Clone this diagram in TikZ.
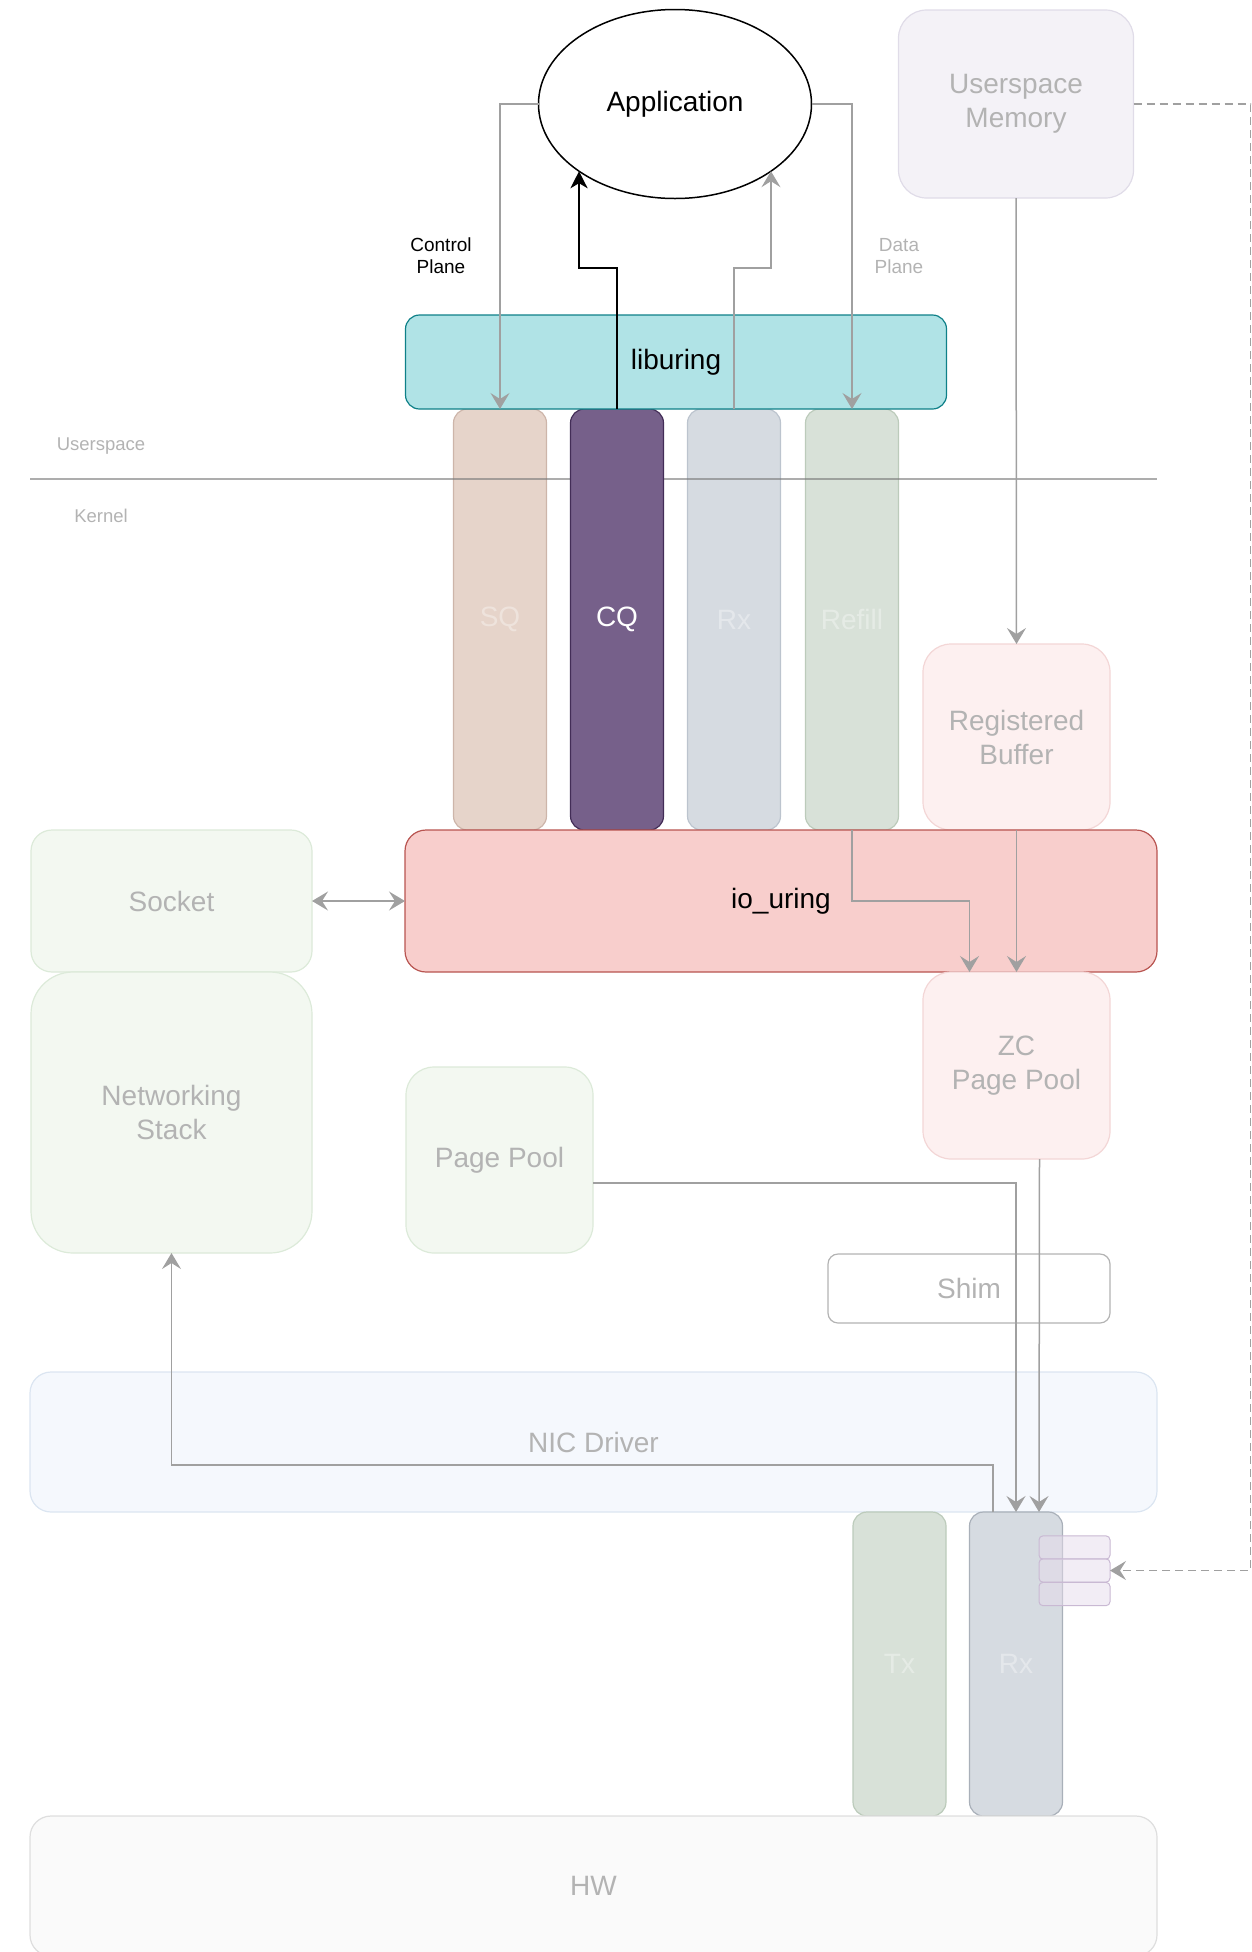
\documentclass[tikz,border=0pt]{standalone}
\usepackage{fontspec}
\setmainfont{Liberation Sans}
\usetikzlibrary{shapes.geometric, arrows.meta}

\definecolor{fadetext}{HTML}{B3B3B3}
\definecolor{linkgray}{HTML}{A0A0A0}
\definecolor{libfill}{HTML}{B0E3E6}
\definecolor{libdraw}{HTML}{0E8088}
\definecolor{ioufill}{HTML}{F8CECC}
\definecolor{ioudraw}{HTML}{B85450}
\definecolor{cqfill}{HTML}{76608A}
\definecolor{cqdraw}{HTML}{432D57}
\definecolor{sqfill}{HTML}{E6D4CA}
\definecolor{sqdraw}{HTML}{CDB5AA}
\definecolor{rxfill}{HTML}{D6DBE1}
\definecolor{rxdraw}{HTML}{BCC4CE}
\definecolor{rffill}{HTML}{D8E1D8}
\definecolor{rfdraw}{HTML}{BCCBBB}
\definecolor{memfill}{HTML}{F4F2F7}
\definecolor{memdraw}{HTML}{E0DCE8}
\definecolor{bufill}{HTML}{FDF0F0}
\definecolor{budraw}{HTML}{F3D6D6}
\definecolor{netfill}{HTML}{F3F8F1}
\definecolor{netdraw}{HTML}{DCEAD9}
\definecolor{nicfill}{HTML}{F5F8FD}
\definecolor{nicdraw}{HTML}{DBE5F1}
\definecolor{hwfill}{HTML}{FAFAFA}
\definecolor{hwdraw}{HTML}{DEDEDE}
\definecolor{slotfill}{HTML}{E6DCEC}
\definecolor{slotdraw}{HTML}{C9B9D3}
\definecolor{sepgray}{HTML}{777777}

\begin{document}
\begin{tikzpicture}[x=1pt, y=-1pt,
  every node/.style={inner sep=0pt, outer sep=0pt, align=center, font=\fontsize{28}{34}\selectfont},
  box/.style={rectangle, draw, line width=1.2pt, rounded corners=#1, text=fadetext},
  box/.default=21pt,
  sz/.style 2 args={minimum width=#1pt, minimum height=#2pt},
  queue/.style={box=14pt, sz={93}{#1}, text opacity=0.35, text=white},
  lbl/.style={font=\fontsize{18.5}{22}\selectfont, text=fadetext},
  tip/.tip={Stealth[length=16pt, width=19pt, inset=6pt]},
  link/.style={draw=linkgray, line width=1.5pt, -tip}
]
  \clip (0,0) rectangle (1252,1952);

  % Userspace
  \node[ellipse, draw, line width=1.5pt, fill=white, sz={273}{189}] (app) at (675,104) {Application};
  \node[box=28pt, fill=memfill, draw=memdraw, sz={235}{188}] (umem) at (1016,104) {Userspace\\Memory};
  \node[lbl, text=black, font=\fontsize{19}{22}\selectfont] (cplane) at (441,256) {Control\\Plane};
  \node[lbl, font=\fontsize{19}{22}\selectfont] (dplane) at (899,256) {Data\\Plane};

  % Rings
  \node[queue=421, fill=sqfill, draw=sqdraw] (sq) at (500,619.5) {SQ};
  \node[queue=421, fill=rxfill, draw=rxdraw] (rxq) at (734,619.5) {Rx};
  \node[queue=421, fill=rffill, draw=rfdraw] (refill) at (852,619.5) {Refill};

  % Userspace / kernel boundary
  \draw[sepgray, draw opacity=0.6, line width=1.5pt] (30,479) -- (1157,479);
  \node[lbl] (user) at (101,446) {Userspace};
  \node[lbl] (kern) at (101,516) {Kernel};

  \node[box=14pt, sz={93}{421}, fill=cqfill, draw=cqdraw, text=white] (cq) at (617,619.5) {CQ};
  \node[box=14pt, sz={541}{94}, fill=libfill, draw=libdraw, text=black] (lib) at (676,362) {liburing};

  % Kernel side
  \node[box=28pt, fill=bufill, draw=budraw, sz={187}{186}] (regbuf) at (1016.5,737) {Registered\\Buffer};
  \node[box, fill=ioufill, draw=ioudraw, sz={752}{142}, text=black] (iou) at (781,901) {io\_uring};
  \node[box, fill=netfill, draw=netdraw, sz={281}{142}] (sock) at (171.5,901) {Socket};
  \node[box=42pt, fill=netfill, draw=netdraw, sz={281}{281}] (netstack) at (171.5,1112.5) {Networking\\Stack};
  \node[box=28pt, fill=netfill, draw=netdraw, sz={187}{186}] (pool) at (499.5,1160) {Page Pool};
  \node[box=28pt, fill=bufill, draw=budraw, sz={187}{187}] (zcpool) at (1016.5,1065.5) {ZC\\Page Pool};
  \node[box=10pt, fill=white, draw=fadetext, sz={282}{69}] (shim) at (969,1288.5) {Shim};
  \node[box, fill=nicfill, draw=nicdraw, sz={1127}{140}] (nic) at (593.5,1442) {NIC Driver};

  % NIC queues
  \node[queue=304, fill=rffill, draw=rfdraw] (tx) at (899.5,1664) {Tx};
  \node[queue=304, fill=rxfill, draw=rxdraw!90!black] (rxnic) at (1016,1664) {Rx};
  \foreach \i/\y in {1/1547.5, 2/1570.5, 3/1594}
    \node[box=4pt, line width=1pt, fill=slotfill, fill opacity=0.5, draw=slotdraw, sz={71}{23.3}] (slot\i) at (1074.5,\y) {};
  \node[box, fill=hwfill, draw=hwdraw, sz={1127}{140}] (hw) at (593.5,1886) {HW};

  % Control plane
  \draw[link] (app.west) -| (sq.north);
  \draw[-{Stealth[length=17pt, width=17pt, inset=5pt]}, line width=2.5pt] (cq.north) -- ++(0,-141) -| (app.215);

  % Data plane
  \draw[link] (rxq.north) -- ++(0,-141) -| (app.325);
  \draw[link] (app.east) -| (refill.north);
  \draw[link] (umem.south) -- (regbuf.north);
  \draw[link] (refill.south) -- ++(0,71) -| ([xshift=-47pt]zcpool.north);
  \draw[link] (regbuf.south) -- (zcpool.north);
  \draw[link, tip-tip] (sock.east) -- (iou.west);
  \draw[link] ([yshift=-23pt]pool.east) -| (rxnic.north);
  \draw[link] ([xshift=23pt]zcpool.south) -- ([xshift=23pt]rxnic.north);
  \draw[link] ([xshift=-23pt]rxnic.north) -- ++(0,-47) -| (netstack.south);

  % Memory registration
  \draw[link, dash pattern=on 8pt off 5pt] (umem.east) -- ++(117,0) |- (slot2.east);
\end{tikzpicture}
\end{document}
